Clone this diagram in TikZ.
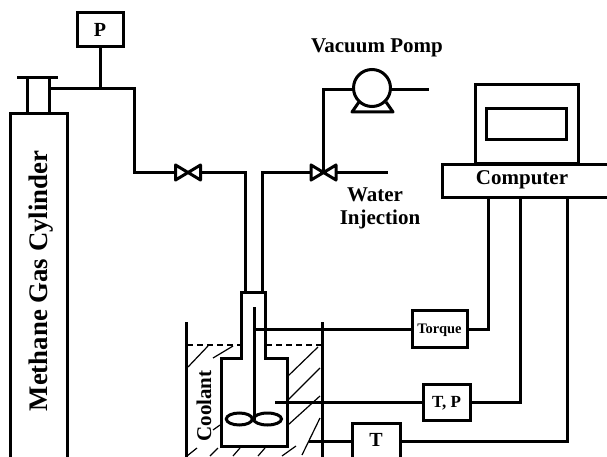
\documentclass[tikz,border=0pt]{standalone}
\usepackage{fontspec}
\setmainfont{Liberation Serif}
\tikzset{
  pipe/.style={line width=3pt,line join=miter,line cap=butt},
  hatchline/.style={line width=1.2pt},
  boxn/.style={draw,line width=3pt,inner sep=0pt,outer sep=0pt,font=\bfseries,text depth=0pt},
  valveb/.style={inner sep=0pt,outer sep=0pt,minimum width=25pt,minimum height=15pt},
  lab/.style={font=\bfseries,inner sep=0pt},
}
\begin{document}
\begin{tikzpicture}[x=1pt,y=-1pt]
\useasboundingbox (0,0) rectangle (607,457);
\clip (0,0) rectangle (607,457);
% hatching
\begin{scope}[hatchline]
\foreach \a/\b/\c/\d in {188/367/208/346, 213/358/233/346, 287/377/318/347, 288/400/320/368, 288/425/320/396, 302/455/320/418, 187/456/197/448, 210/456/218/448, 233/456/240/448, 258/456/265/448, 282/456/296/446, 213/430/220/425}
  \draw (\a,\b) -- (\c,\d);
\end{scope}
\draw[dash pattern=on 6pt off 4pt,line width=1.3pt] (187,345) -- (240,345) (266,345) -- (322,345);
% cylinder
\node[boxn,minimum width=57pt,minimum height=360pt,anchor=north west] (cyl) at (10,114) {};
\node[boxn,minimum width=22pt,minimum height=36pt,anchor=north west] (cap) at (27,78) {};
\coordinate (capl) at (17,78); \coordinate (capr) at (58,78);
\draw[pipe] (capl) -- (capr);
\node[lab,rotate=90,font=\bfseries\fontsize{26.8}{28}\selectfont] (cyllab) at (41,281) {Methane Gas Cylinder};
% gauge P
\node[boxn,minimum width=46pt,minimum height=34pt,font=\bfseries\fontsize{20}{21}\selectfont] (gp) at (100,30) {P};
\coordinate (j1) at (99.5,89); \coordinate (c1s) at (49,89); \coordinate (c1) at (134,89); \coordinate (c2) at (134,172.5);
\node[valveb] (v1) at (188,172.5) {};
\draw[pipe,line join=round] (v1.north west) -- (v1.south west) -- (v1.north east) -- (v1.south east) -- cycle;
\coordinate (c3) at (245,172.5); \coordinate (c4) at (262,172.5);
\draw[pipe] (gp.south) -- (gp.south |- j1);
\draw[pipe] (c1s) -- (c1) -- (c2) -- (v1.west);
% neck / reactor
\draw[pipe] (v1.east) -- (c3) -- (245,292);
\node[valveb] (v2) at (323.5,172.5) {};
\draw[pipe,line join=round] (v2.north west) -- (v2.south west) -- (v2.north east) -- (v2.south east) -- cycle;
\draw[pipe] (262,292) -- (c4) -- (v2.west);
\coordinate (wend) at (388,172.5);
\draw[pipe] (v2.east) -- (wend);
\draw[pipe] (241,358) -- (241,292) -- (265,292) -- (265,358) -- (287,358) -- (287,446) -- (221.5,446) -- (221.5,358) -- cycle;
\draw[pipe] (186.5,322) -- (186.5,457) (322,322) -- (322,457);
\draw[pipe] (254.5,307) -- (254.5,420);
\draw[pipe] (239.3,419) ellipse (13 and 6) (267.5,419) ellipse (14 and 6);
\node[lab,rotate=90,font=\bfseries\fontsize{21}{22}\selectfont] (cool) at (204,406) {Coolant};
% pump
\node[draw,circle,line width=3pt,minimum size=37pt,inner sep=0pt,outer sep=0pt] (pump) at (372,88) {};
\coordinate (pbl) at (352,112); \coordinate (pbr) at (393,112);
\draw[pipe,line join=round] (359,102) -- (pbl) -- (pbr) -- (386,102);
\coordinate (pc) at (324,90); \coordinate (pe) at (429,90);
\draw[pipe] (v2.center) -- (v2.center |- pc) -- (pump.west |- pc);
\draw[pipe] (pump.east |- pe) -- (pe);
\node[lab,font=\bfseries\fontsize{21}{22}\selectfont] (vac) at (377,48) {Vacuum Pomp};
\node[lab,font=\bfseries\fontsize{21}{22}\selectfont] (wat) at (375,195) {Water};
\node[lab,font=\bfseries\fontsize{21}{22}\selectfont] (inj) at (380,219) {Injection};
% computer
\node[boxn,minimum width=103pt,minimum height=79pt,anchor=north west] (mon) at (475,85) {};
\node[boxn,minimum width=80pt,minimum height=31pt,anchor=north west] (scr) at (486,109) {};
\node[boxn,minimum width=180pt,minimum height=32pt,anchor=north west,fill=white] (comp) at (442,165) {};
\node[lab,font=\bfseries\fontsize{21}{22}\selectfont] (complab) at (522,180) {Computer};
% instruments
\node[boxn,minimum width=55pt,minimum height=37pt,font=\bfseries\fontsize{14.5}{15}\selectfont] (tq) at (439.5,329) {Torque};
\node[boxn,minimum width=47pt,minimum height=36pt,font=\bfseries\fontsize{17}{18}\selectfont] (tp) at (446.5,402) {T, P};
\node[boxn,minimum width=48pt,minimum height=40pt,anchor=north west] (tt) at (352,423) {};
\node[lab,font=\bfseries\fontsize{20}{21}\selectfont] (ttl) at (376,440) {T};
\coordinate (a1) at (256,329); \coordinate (a2) at (275,402); \coordinate (a3) at (309,441);
\coordinate (b1) at (488,329); \coordinate (b2) at (520,402); \coordinate (b3) at (567,441);
\draw[pipe] (a1) -- (tq.west);
\draw[pipe] (a2) -- (tp.west);
\draw[pipe] (a3) -- (a3 -| tt.west);
\draw[pipe] (tq.east) -- (b1) -- (b1 |- comp.south);
\draw[pipe] (tp.east) -- (b2) -- (b2 |- comp.south);
\draw[pipe] (b3 -| tt.east) -- (b3) -- (b3 |- comp.south);
\end{tikzpicture}
\end{document}
